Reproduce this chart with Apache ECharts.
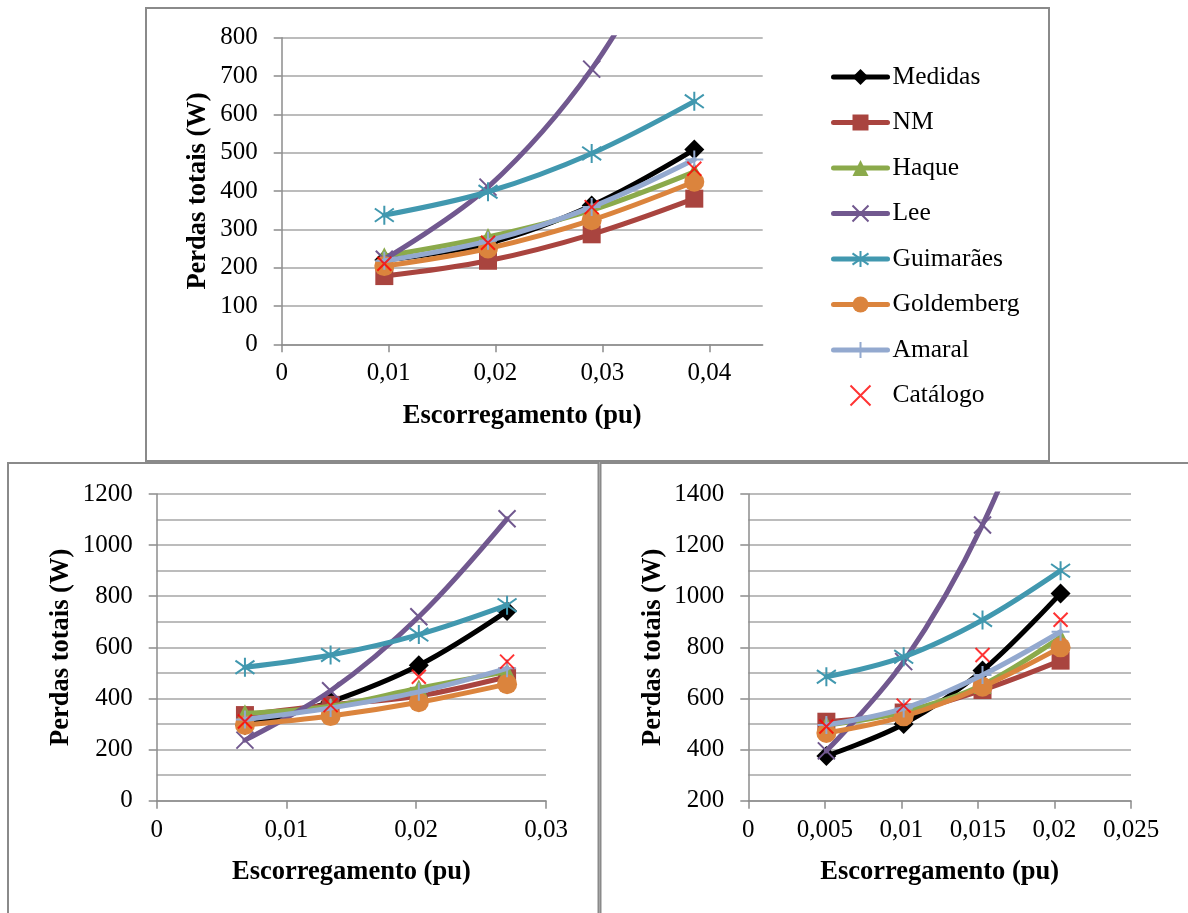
<!DOCTYPE html>
<html><head><meta charset="utf-8">
<script src="https://cdn.jsdelivr.net/npm/echarts@6/dist/echarts.min.js"></script>
<style>html,body{margin:0;padding:0;background:#fff}#c{width:1188px;height:913px}</style>
</head><body><div id="c"></div>
<script>
const seriesNames = ['Medidas','NM','Haque','Lee','Guimarães','Goldemberg','Amaral','Catálogo'];

// Top panel
const slipTop = [0.0096, 0.0193, 0.0290, 0.0386];
const medidasTop    = [220, 263, 362, 508];
const nmTop         = [178, 218, 287, 380];
const haqueTop      = [230, 280, 350, 450];
const leeTop        = [222, 410, 718, 1170];
const guimaraesTop  = [337, 398, 498, 634];
const goldembergTop = [204, 250, 324, 424];
const amaralTop     = [218, 270, 358, 482];
const catalogoTop   = [210, 265, 358, 458];
const xTicksTop = [0, 0.01, 0.02, 0.03, 0.04];

// Bottom-left panel
const slipBL = [0.0068, 0.0134, 0.0202, 0.0270];
const medidasBL    = [295, 387, 530, 742];
const nmBL         = [335, 375, 410, 485];
const haqueBL      = [342, 370, 440, 505];
const leeBL        = [237, 430, 720, 1103];
const guimaraesBL  = [522, 570, 650, 765];
const goldembergBL = [296, 331, 385, 456];
const amaralBL     = [318, 363, 426, 518];
const catalogoBL   = [310, 374, 485, 544];
const xTicksBL = [0, 0.01, 0.02, 0.03];

// Bottom-right panel
const slipBR = [0.0051, 0.01015, 0.0153, 0.0204];
const medidasBR    = [375, 500, 709, 1011];
const nmBR         = [509, 545, 633, 748];
const haqueBR      = [496, 548, 653, 840];
const leeBR        = [395, 744, 1279, 2030];
const guimaraesBR  = [685, 763, 907, 1100];
const goldembergBR = [465, 530, 646, 800];
const amaralBR     = [496, 561, 692, 861];
const catalogoBR   = [490, 572, 770, 908];
const xTicksBR = [0, 0.005, 0.01, 0.015, 0.02, 0.025];

const colors = ['#000000','#A9443F','#8BAA4B','#71588F','#4198AF','#DB843D','#93A9CF','#FF0000'];
const P_X = 'path://M0,0L10,10M10,0L0,10';
const P_STAR = 'path://M0,1.5L10,8.5M10,1.5L0,8.5M5,0L5,10';
const P_PLUS = 'path://M5,0L5,10M0,5L10,5';
const symbols = ['diamond','rect','triangle',P_X,P_STAR,'circle',P_PLUS,P_X];
const symSizes = [20,18,18,17,19,20,18,14];
const strokeSym = [false,false,false,true,true,false,true,true];

const FONT = 'Liberation Serif';

function panelSeries(gi, slip, lists){
  return lists.map((vals, i) => {
    const data = slip.map((x, k) => [x, vals[k]]);
    const isCat = i === 7;
    const s = {
      name: seriesNames[i],
      type: isCat ? 'scatter' : 'line',
      xAxisIndex: gi, yAxisIndex: gi,
      data: data,
      symbol: symbols[i],
      symbolSize: symSizes[i],
      symbolKeepAspect: true,
      itemStyle: strokeSym[i] ? {color: colors[i], borderColor: colors[i], borderWidth: 2} : {color: colors[i]},
      emphasis: {disabled: true},
      z: 2 + i*0.01
    };
    if (!isCat) {
      s.smooth = 0.35;
      s.showAllSymbol = true;
      s.clip = true;
      s.lineStyle = {color: colors[i], width: 5, cap: 'round', join: 'round'};
    }
    return s;
  });
}

const fmt = v => String(Number(v.toFixed(4))).replace('.', ',');

function xAxis(gi, max, ticks){
  return {
    type: 'value', gridIndex: gi, min: 0, max: max,
    axisLine: {show: true, onZero: false, lineStyle: {color: '#8C8C8C', width: 1.5}},
    axisTick: {show: true, length: 8, customValues: ticks, lineStyle: {color: '#8C8C8C', width: 1.5}},
    axisLabel: {customValues: ticks, formatter: fmt, margin: 17, color: '#000', fontSize: 25, fontFamily: FONT},
    splitLine: {show: false},
    name: 'Escorregamento (pu)', nameLocation: 'middle', nameGap: 58,
    nameTextStyle: {color: '#000', fontSize: 26.5, fontWeight: 'bold', fontFamily: FONT}
  };
}
function yAxis(gi, min, max, interval, minor, gap){
  const a = {
    type: 'value', gridIndex: gi, min: min, max: max, interval: interval,
    axisLine: {show: true, lineStyle: {color: '#8C8C8C', width: 1.5}},
    axisTick: {show: true, length: 8, lineStyle: {color: '#8C8C8C', width: 1.5}},
    axisLabel: {margin: 24, color: '#000', fontSize: 25, fontFamily: FONT, formatter: v => String(v)},
    splitLine: {show: true, lineStyle: {color: '#A6A6A6', width: 1.5}},
    name: 'Perdas totais (W)', nameLocation: 'middle', nameGap: gap,
    nameTextStyle: {color: '#000', fontSize: 26.5, fontWeight: 'bold', fontFamily: FONT}
  };
  if (minor) {
    a.minorTick = {show: false, splitNumber: 2};
    a.minorSplitLine = {show: true, lineStyle: {color: '#A6A6A6', width: 1.5}};
  }
  return a;
}

const option = {
  animation: false,
  backgroundColor: '#fff',
  textStyle: {fontFamily: FONT},
  graphic: [
    {type: 'rect', shape: {x: 146, y: 8, width: 903, height: 453}, style: {fill: 'none', stroke: '#8A8A8A', lineWidth: 2}, silent: true},
    {type: 'rect', shape: {x: 8, y: 463, width: 590.5, height: 470}, style: {fill: 'none', stroke: '#8A8A8A', lineWidth: 2}, silent: true},
    {type: 'rect', shape: {x: 600.5, y: 463, width: 600, height: 470}, style: {fill: 'none', stroke: '#8A8A8A', lineWidth: 2}, silent: true}
  ],
  grid: [
    {left: 281.7, top: 37.7, width: 481, height: 306.6},
    {left: 156.7, top: 494, width: 389.3, height: 306.7},
    {left: 748.3, top: 494, width: 382.7, height: 306.7}
  ],
  xAxis: [xAxis(0, 0.045, xTicksTop), xAxis(1, 0.03, xTicksBL), xAxis(2, 0.025, xTicksBR)],
  yAxis: [yAxis(0, 0, 800, 100, false, 70), yAxis(1, 0, 1200, 200, true, 82), yAxis(2, 200, 1400, 200, true, 82)],
  legend: {
    orient: 'vertical', left: 826, top: 58,
    itemWidth: 54, itemHeight: 20, itemGap: 17.5,
    data: seriesNames,
    lineStyle: {width: 5, cap: 'round'},
    textStyle: {color: '#000', fontSize: 25.5, fontFamily: FONT, lineHeight: 28},
    selectedMode: false
  },
  series: [].concat(
    panelSeries(0, slipTop, [medidasTop, nmTop, haqueTop, leeTop, guimaraesTop, goldembergTop, amaralTop, catalogoTop]),
    panelSeries(1, slipBL, [medidasBL, nmBL, haqueBL, leeBL, guimaraesBL, goldembergBL, amaralBL, catalogoBL]),
    panelSeries(2, slipBR, [medidasBR, nmBR, haqueBR, leeBR, guimaraesBR, goldembergBR, amaralBR, catalogoBR])
  )
};
const chart = echarts.init(document.getElementById('c'), null, {renderer: 'canvas'});
chart.setOption(option);
</script></body></html>
